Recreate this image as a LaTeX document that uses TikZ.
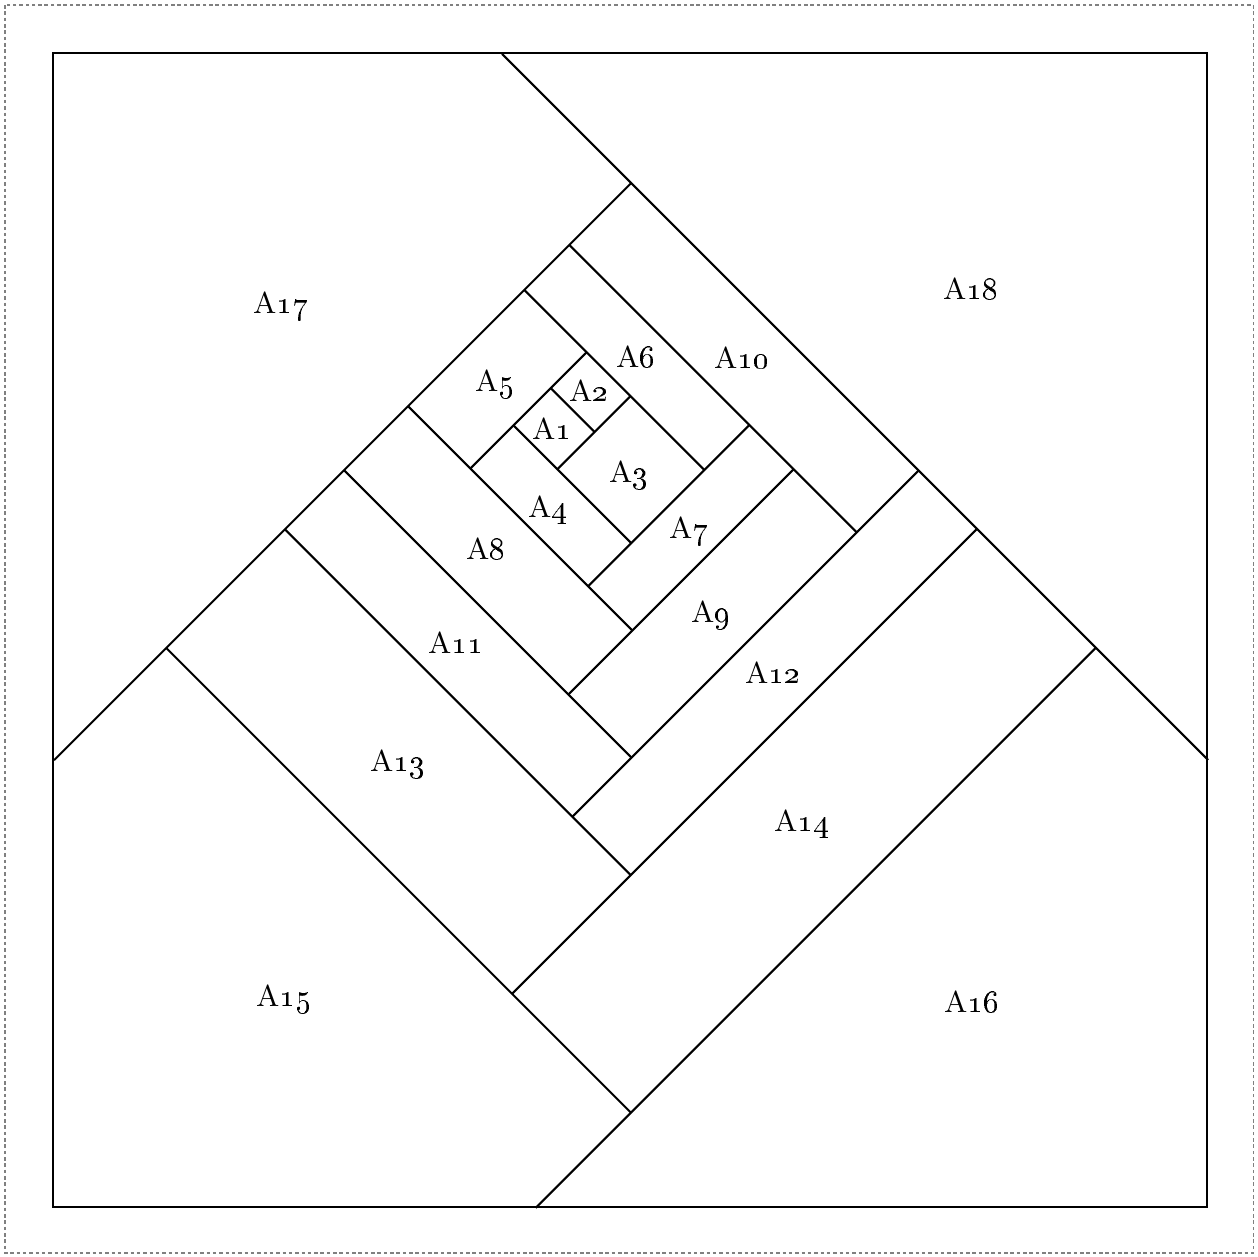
\documentclass[tikz,border=0pt]{standalone}

\tikzset{
  piece/.style={line width=0.6pt},
  lab/.style={font=\fontsize{8.6}{10}\selectfont, inner sep=0pt, text height=0.68em, text depth=0pt}
}

\begin{document}
\begin{tikzpicture}[x=0.01cm, y=-0.01cm]
  \useasboundingbox (0,0) rectangle (1258,1256);
  \draw[gray, line width=0.4pt, dash pattern=on 1pt off 0.8pt] (5,5) rectangle (1253.5,1253);
  \draw[line width=0.7pt] (53,53) rectangle (1207,1207);

  % strips in turned axes: first = x-y, second = x+y
  \begin{scope}[x={(0.005cm,0.005cm)}, y={(0.005cm,-0.005cm)}, piece]
    % outer frame of the spiral
    \draw (447.5,555) -- (447.5,1965);
    \draw (-705,813) -- (447.5,813);
    \draw (-671,1741) -- (447.5,1741);
    \draw (-481,813) -- (-481,1741);
    % inner logs
    \draw (162.5,937.5) -- (162.5,1025);
    \draw (88,937.5) -- (88,1172.5);
    \draw (234,813) -- (234,1172.5);
    \draw (2,813) -- (2,1261);
    \draw (324,813) -- (324,1387);
    \draw (-126,813) -- (-126,1387);
    \draw (-244,813) -- (-244,1503.5);
    \draw (2,937.5) -- (234,937.5);
    \draw (88,1025) -- (234,1025);
    \draw (2,1172.5) -- (324,1172.5);
    \draw (-126,1261) -- (324,1261);
    \draw (-244,1387) -- (447.5,1387);
    \draw (-481,1503.5) -- (447.5,1503.5);
  \end{scope}

  \foreach \n/\px/\py in {1/552/428, 2/589/390, 3/629/471, 4/548/506, 5/495/380,
      6/636/356, 7/689/527, 8/486/548, 9/711/611, 10/742/357, 11/456/642,
      12/773/672, 13/398/760, 14/802/820, 15/284/995, 16/972/1001, 17/281/302, 18/971/288}
    \node[lab] (a\n) at (\px,\py) {A\oldstylenums{\n}};
\end{tikzpicture}
\end{document}
